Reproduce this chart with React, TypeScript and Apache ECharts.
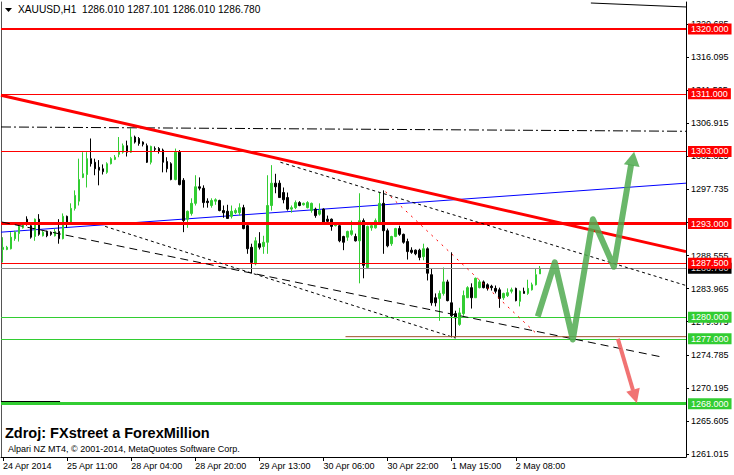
import React, { useEffect, useRef } from "react";
import * as echarts from "echarts";

const FONT = '"Liberation Sans", Arial, sans-serif';

// [open, close, low, high] hourly candles, 24 Apr 2014 18:00 .. 2 May 2014 14:00
const ohlc: number[][] = [
  [1289.4, 1289.7, 1287.6, 1291.1], [1289.4, 1289.7, 1289.3, 1289.9], [1289.5, 1291.1, 1289.4, 1291.8],
  [1290.9, 1291.8, 1290.6, 1292.0], [1291.6, 1292.6, 1290.5, 1293.0], [1292.4, 1292.9, 1292.3, 1293.1],
  [1293.6, 1292.9, 1292.7, 1294.0], [1292.7, 1291.1, 1290.9, 1293.0], [1291.2, 1293.6, 1290.6, 1293.7],
  [1293.6, 1291.5, 1291.3, 1294.3], [1291.3, 1291.8, 1291.2, 1292.0], [1291.8, 1291.3, 1291.1, 1292.0],
  [1291.8, 1291.5, 1291.3, 1291.9], [1291.3, 1291.9, 1291.2, 1292.3], [1291.9, 1290.9, 1290.2, 1293.6],
  [1290.9, 1294.0, 1290.8, 1294.4], [1294.0, 1293.1, 1292.4, 1294.1], [1293.1, 1295.1, 1293.0, 1295.8],
  [1295.1, 1296.9, 1294.8, 1297.6], [1296.1, 1299.1, 1295.5, 1302.0], [1299.4, 1299.9, 1299.3, 1302.9],
  [1299.8, 1302.0, 1298.0, 1302.9], [1302.0, 1301.3, 1300.9, 1304.8], [1301.5, 1300.6, 1299.7, 1302.0],
  [1300.8, 1300.4, 1298.3, 1301.8], [1300.6, 1300.2, 1299.8, 1301.2], [1300.1, 1301.3, 1299.9, 1301.5],
  [1301.3, 1302.0, 1301.2, 1302.2], [1301.9, 1302.2, 1301.8, 1302.5], [1302.6, 1302.9, 1302.2, 1305.0],
  [1302.9, 1303.8, 1302.7, 1304.1], [1303.8, 1302.9, 1302.3, 1304.5], [1302.9, 1305.0, 1302.8, 1306.2],
  [1305.0, 1304.3, 1304.1, 1305.2], [1304.8, 1304.1, 1303.8, 1305.0], [1304.3, 1304.0, 1303.7, 1304.4],
  [1303.8, 1301.5, 1301.4, 1304.1], [1301.5, 1303.7, 1301.2, 1303.8], [1303.4, 1303.3, 1303.0, 1303.7],
  [1303.4, 1303.0, 1302.7, 1303.6], [1303.2, 1301.5, 1300.1, 1303.4], [1301.6, 1300.6, 1300.1, 1302.2],
  [1301.3, 1299.1, 1299.0, 1301.5], [1299.1, 1302.9, 1299.0, 1303.4], [1302.9, 1298.4, 1298.3, 1303.2],
  [1299.0, 1293.4, 1291.8, 1299.3], [1293.6, 1294.7, 1292.4, 1294.8], [1294.4, 1295.8, 1294.1, 1296.5],
  [1295.8, 1298.1, 1295.5, 1299.7], [1298.1, 1297.9, 1297.6, 1299.4], [1297.9, 1295.9, 1295.2, 1298.3],
  [1296.1, 1295.9, 1295.2, 1296.5], [1295.5, 1296.2, 1295.2, 1296.5], [1296.1, 1296.3, 1295.6, 1296.5],
  [1296.2, 1294.8, 1294.7, 1296.3], [1294.8, 1294.5, 1293.8, 1295.5], [1294.7, 1293.7, 1293.7, 1295.6],
  [1294.0, 1294.7, 1293.7, 1295.5], [1294.5, 1294.8, 1294.3, 1295.1], [1294.5, 1295.2, 1294.1, 1295.8],
  [1295.2, 1292.3, 1292.2, 1295.6], [1292.7, 1289.5, 1288.8, 1293.1], [1289.7, 1287.6, 1286.1, 1290.2],
  [1287.4, 1290.6, 1287.2, 1291.1], [1290.2, 1289.7, 1289.4, 1291.8], [1289.8, 1290.4, 1288.8, 1291.3],
  [1290.4, 1295.5, 1288.8, 1299.7], [1295.5, 1298.6, 1294.8, 1301.1], [1298.6, 1298.1, 1297.2, 1299.9],
  [1298.6, 1296.6, 1296.6, 1299.0], [1297.3, 1296.3, 1295.8, 1298.0], [1296.6, 1295.0, 1294.8, 1297.3],
  [1295.0, 1295.2, 1294.5, 1295.5], [1295.2, 1295.9, 1295.0, 1296.2], [1295.9, 1295.5, 1295.4, 1296.1],
  [1295.6, 1295.8, 1295.5, 1295.9], [1295.2, 1295.9, 1295.1, 1296.1], [1294.8, 1295.8, 1294.5, 1295.9],
  [1295.0, 1294.1, 1293.8, 1295.2], [1294.3, 1294.8, 1294.1, 1295.8], [1295.0, 1293.1, 1293.0, 1295.1],
  [1293.6, 1293.3, 1293.0, 1294.1], [1293.6, 1292.6, 1292.0, 1293.7], [1292.7, 1293.0, 1292.6, 1293.1],
  [1292.7, 1290.6, 1290.4, 1293.0], [1291.2, 1290.4, 1289.3, 1291.3], [1291.1, 1291.9, 1290.6, 1292.0],
  [1291.5, 1292.0, 1291.3, 1293.4], [1291.2, 1290.6, 1290.5, 1291.6], [1290.6, 1293.4, 1284.7, 1297.2],
  [1293.4, 1287.2, 1285.4, 1293.7], [1286.9, 1292.6, 1286.8, 1292.7], [1292.4, 1292.7, 1292.0, 1293.1],
  [1292.4, 1293.4, 1292.3, 1293.7], [1293.0, 1295.8, 1292.9, 1297.3], [1295.8, 1292.0, 1288.8, 1297.6],
  [1292.0, 1289.9, 1289.7, 1292.3], [1290.2, 1291.2, 1289.9, 1291.3], [1291.2, 1292.3, 1291.1, 1292.4],
  [1292.3, 1291.5, 1291.3, 1292.7], [1291.5, 1290.4, 1290.2, 1291.6], [1290.5, 1289.1, 1288.0, 1290.9],
  [1289.3, 1289.0, 1288.8, 1289.7], [1289.3, 1288.8, 1288.6, 1289.4], [1289.3, 1288.3, 1287.9, 1289.5],
  [1288.4, 1289.5, 1287.9, 1290.2], [1289.5, 1286.1, 1285.1, 1289.7], [1285.9, 1282.0, 1281.6, 1286.8],
  [1282.7, 1282.0, 1281.5, 1283.3], [1282.6, 1283.3, 1279.5, 1283.7], [1283.3, 1284.9, 1283.0, 1286.9],
  [1284.9, 1282.3, 1282.2, 1285.2], [1282.0, 1280.2, 1277.2, 1289.0], [1280.5, 1279.9, 1277.2, 1280.9],
  [1279.0, 1280.6, 1278.8, 1281.3], [1280.5, 1283.0, 1280.2, 1283.7], [1282.7, 1284.1, 1282.7, 1284.3],
  [1284.1, 1282.7, 1281.2, 1284.7], [1282.7, 1285.4, 1282.7, 1285.5], [1284.1, 1284.9, 1284.0, 1285.2],
  [1284.9, 1284.1, 1284.0, 1285.1], [1284.5, 1284.0, 1283.7, 1284.7], [1284.3, 1284.1, 1283.7, 1284.5],
  [1284.0, 1283.6, 1283.3, 1284.4], [1283.8, 1282.6, 1281.3, 1284.1], [1282.7, 1283.3, 1282.4, 1283.4],
  [1283.0, 1283.4, 1282.8, 1284.0], [1283.6, 1283.8, 1283.3, 1284.1], [1284.0, 1282.3, 1282.2, 1284.1],
  [1282.2, 1283.6, 1281.5, 1283.7], [1283.6, 1283.3, 1283.3, 1284.1], [1283.3, 1284.0, 1283.1, 1285.2],
  [1283.8, 1284.5, 1283.7, 1284.8], [1284.5, 1285.9, 1284.4, 1286.8], [1286.01, 1286.78, 1286.01, 1287.101],
];

const SLOTS = 171; // bars + empty right shift
const xTickLabels = [
  "24 Apr 2014", "25 Apr 11:00", "28 Apr 04:00", "28 Apr 20:00", "29 Apr 13:00",
  "30 Apr 06:00", "30 Apr 22:00", "1 May 15:00", "2 May 08:00",
];
const X_TICK_EVERY = 16;
const yTickValues = [
  1261.015, 1265.605, 1270.195, 1274.785, 1279.375, 1283.965, 1288.555,
  1293.145, 1297.735, 1302.325, 1306.915, 1311.505, 1316.095, 1320.685,
];
const Y_MIN = 1260.6;
const Y_MAX = 1323.74;

const redLevels = [1320.0, 1311.0, 1303.0, 1293.0, 1287.5];
const greenLevels = [1280.0, 1277.0, 1268.0];
const currentPrice = 1286.78;

// trend lines: [barIndex, price]
const redTrend = [[-0.5, 1310.8], [170.5, 1289.1]];
const blueTrend = [[-0.5, 1291.8], [170.5, 1298.6]];
const dashDotLine = [[-0.5, 1306.4], [170.5, 1305.8]];
const topLine = [[146.75, 1323.6], [170.5, 1323.05]];
const longDashLine = [[-0.25, 1293.2], [164.25, 1274.5]];
const shortDashLow = [[25.5, 1292.6], [113, 1277.1]];
const shortDashUpper = [[69.25, 1301.5], [170.5, 1284.4]];
const redDotted = [[95.5, 1297.4], [133, 1277.8]];
const brownLine = [[85.5, 1277.3], [170.5, 1277.3]];
const leftStub = [[-0.5, 1268.3], [14.25, 1268.3]];

// scenario arrows
const greenPath = [
  [133.5, 1280.1], [137.75, 1287.6], [142.25, 1276.9], [147.25, 1293.6], [152.5, 1287.0], [156.8, 1301.2],
];
const greenHead = [157.25, 1302.0];
const redPath = [[153.5, 1277.0], [157.25, 1269.9]];
const redHead = [157.75, 1269.0];

const GREEN = "#32CD32";

export default function App() {
  const ref = useRef<HTMLDivElement>(null);

  useEffect(() => {
    if (!ref.current) return;
    const chart = echarts.init(ref.current, undefined, { renderer: "svg" });

    const categories = Array.from({ length: SLOTS }, (_, i) =>
      i % X_TICK_EVERY === 0 && i / X_TICK_EVERY < xTickLabels.length ? xTickLabels[i / X_TICK_EVERY] : ""
    );
    const showTick = (_i: number, v: string) => v !== "";

    const redWidths = [2, 1, 1, 3, 1];
    const greenWidths = [1, 1, 3];

    const tagLabel = (bg: string, text: string) => ({
      show: true,
      position: "end",
      distance: 2,
      formatter: text,
      backgroundColor: bg,
      color: "#fff",
      fontSize: 9,
      fontFamily: FONT,
      lineHeight: 10,
      padding: [1, 3, 0, 3],
    });

    const markData: any[] = [];
    markData.push({
      yAxis: currentPrice,
      lineStyle: { color: "#8c8c8c", width: 1, type: "solid" },
      label: { ...tagLabel("#000", currentPrice.toFixed(3)), color: "#ddd" },
    });
    greenLevels.forEach((p, k) =>
      markData.push({
        yAxis: p,
        lineStyle: { color: GREEN, width: greenWidths[k], type: "solid" },
        label: tagLabel(GREEN, p.toFixed(3)),
      })
    );
    redLevels.forEach((p, k) =>
      markData.push({
        yAxis: p,
        lineStyle: { color: "#ff0000", width: redWidths[k], type: "solid" },
        label: tagLabel("#ff0000", p.toFixed(3)),
      })
    );

    const seg = (data: number[][], color: string, width: number, type: any, z = 5, opacity = 1) => ({
      type: "line",
      xAxisIndex: 1,
      yAxisIndex: 0,
      data,
      symbol: "none",
      silent: true,
      z,
      lineStyle: { color, width, type, opacity, cap: "butt", join: "round" },
    });

    const last = ohlc[ohlc.length - 1];
    const header = `XAUUSD,H1  ${last[0].toFixed(3)} ${last[3].toFixed(3)} ${last[2].toFixed(3)} ${last[1].toFixed(3)}`;

    chart.setOption({
      animation: false,
      backgroundColor: "#fff",
      grid: { left: 1, right: 48, top: 2, bottom: 18, containLabel: false },
      xAxis: [
        {
          type: "category",
          data: categories,
          boundaryGap: true,
          axisLine: { show: true, onZero: false, lineStyle: { color: "#000", width: 1 } },
          axisTick: { show: true, alignWithLabel: true, interval: showTick, length: 4, lineStyle: { color: "#000" } },
          axisLabel: {
            interval: showTick,
            align: "left",
            margin: 4,
            color: "#000",
            fontSize: 9,
            fontFamily: FONT,
          },
          splitLine: { show: false },
        },
        { type: "value", min: -0.5, max: SLOTS - 0.5, show: false },
      ],
      yAxis: [
        {
          type: "value",
          position: "right",
          min: Y_MIN,
          max: Y_MAX,
          scale: true,
          splitLine: { show: false },
          axisLine: { show: true, onZero: false, lineStyle: { color: "#000", width: 1 } },
          axisTick: { show: true, length: 3, customValues: yTickValues, lineStyle: { color: "#000" } },
          axisLabel: {
            customValues: yTickValues,
            formatter: (v: number) => v.toFixed(3),
            color: "#000",
            fontSize: 9,
            fontFamily: FONT,
            margin: 5,
          },
        },
        {
          type: "value",
          position: "left",
          min: 0,
          max: 1,
          splitLine: { show: false },
          axisLine: { show: true, onZero: false, lineStyle: { color: "#555", width: 1 } },
          axisTick: { show: false },
          axisLabel: { show: false },
        },
      ],
      series: [
        {
          type: "candlestick",
          xAxisIndex: 0,
          yAxisIndex: 0,
          data: ohlc,
          barWidth: 2,
          z: 3,
          itemStyle: { color: GREEN, color0: "#000", borderColor: GREEN, borderColor0: "#000", borderWidth: 1 },
          markLine: { symbol: "none", silent: true, animation: false, data: markData },
        },
        seg(blueTrend, "#0000ff", 1, "solid", 2),
        seg(dashDotLine, "#000", 1, [10, 3, 2, 3]),
        seg(topLine, "#000", 1, "solid"),
        seg(longDashLine, "#000", 1, [8, 5]),
        seg(shortDashLow, "#000", 1, [3, 3]),
        seg(shortDashUpper, "#000", 1, [3, 3]),
        seg(redDotted, "#ff0000", 1, [2, 5]),
        seg(brownLine, "#a0522d", 1, "solid"),
        seg(leftStub, "#000", 1, "solid"),
        seg(redTrend, "#ff0000", 3, "solid", 6),
        seg(greenPath, "rgb(80,170,80)", 6, "solid", 8, 0.85),
        seg(redPath, "rgb(240,100,100)", 4, "solid", 8, 0.9),
        {
          type: "scatter",
          xAxisIndex: 1,
          yAxisIndex: 0,
          silent: true,
          z: 8,
          data: [greenHead],
          symbol: "triangle",
          symbolSize: [16, 14],
          symbolRotate: -10,
          itemStyle: { color: "rgb(80,170,80)", opacity: 0.85 },
        },
        {
          type: "scatter",
          xAxisIndex: 1,
          yAxisIndex: 0,
          silent: true,
          z: 8,
          data: [redHead],
          symbol: "triangle",
          symbolSize: [14, 14],
          symbolRotate: 196,
          itemStyle: { color: "rgb(240,100,100)", opacity: 0.9 },
        },
      ],
      graphic: [
        { type: "polygon", shape: { points: [[5, 8], [12, 8], [8.5, 12]] }, style: { fill: "#000" } },
        {
          type: "text",
          left: 18,
          top: 4,
          style: { text: header, fontSize: 10.2, fontFamily: FONT, fill: "#000" },
        },
        {
          type: "text",
          left: 5,
          top: 425,
          style: {
            text: "Zdroj: FXstreet a ForexMillion",
            fontSize: 14.5,
            fontWeight: "bold",
            fontFamily: FONT,
            fill: "#000",
          },
        },
        {
          type: "text",
          left: 8,
          top: 444,
          style: {
            text: "Alpari NZ MT4, © 2001-2014, MetaQuotes Software Corp.",
            fontSize: 9,
            fontFamily: FONT,
            fill: "#000",
          },
        },
      ],
    });

    return () => chart.dispose();
  }, []);

  return (
    <div
      ref={ref}
      style={{ position: "absolute", left: 0, top: 0, width: 734, height: 475, background: "#fff" }}
    />
  );
}
